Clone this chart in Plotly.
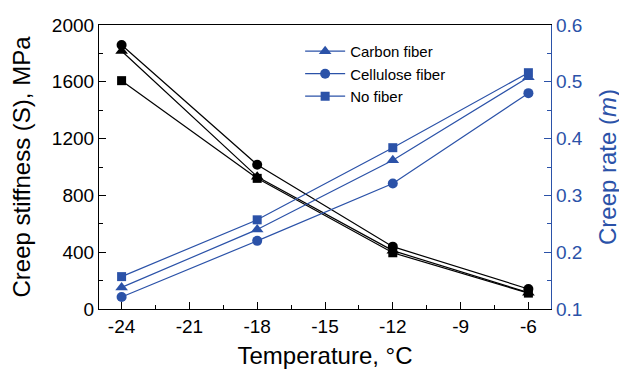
import plotly.graph_objects as go

temps = [-24, -18, -12, -6]
series = ["Carbon fiber", "Cellulose fiber", "No fiber"]
symbols = ["triangle-up", "circle", "square"]
stiffness = {
    "Carbon fiber": [1817, 932, 411, 115],
    "Cellulose fiber": [1859, 1016, 439, 141],
    "No fiber": [1608, 920, 396, 112],
}
creep_rate = {
    "Carbon fiber": [0.138, 0.240, 0.362, 0.508],
    "Cellulose fiber": [0.121, 0.220, 0.321, 0.480],
    "No fiber": [0.157, 0.257, 0.384, 0.516],
}
x_ticks = [-24, -21, -18, -15, -12, -9, -6]
x_ticklabels = ["-24", "-21", "-18", "-15", "-12", "-9", "-6"]
y_ticks = [0, 400, 800, 1200, 1600, 2000]
y2_ticks = [0.1, 0.2, 0.3, 0.4, 0.5, 0.6]

BLUE = "#2B52A8"
FONT = "Liberation Sans, Arial, sans-serif"
sizes = {"triangle-up": 11, "circle": 10, "square": 9}

fig = go.Figure()
for name, sym in zip(series, symbols):
    fig.add_trace(go.Scatter(
        x=temps, y=creep_rate[name], name=name, yaxis="y2",
        mode="lines+markers",
        line=dict(color=BLUE, width=1.2),
        marker=dict(symbol=sym, size=sizes[sym], color=BLUE),
    ))
for name, sym in zip(series, symbols):
    fig.add_trace(go.Scatter(
        x=temps, y=stiffness[name], name=name, showlegend=False,
        mode="lines+markers",
        line=dict(color="black", width=1.2),
        marker=dict(symbol=sym, size=sizes[sym], color="black"),
    ))

fig.update_layout(
    width=619, height=361,
    margin=dict(l=91, r=76, t=17, b=60),
    paper_bgcolor="white", plot_bgcolor="white",
    font=dict(family=FONT, color="black"),
    showlegend=True,
    legend=dict(x=0.445, y=0.965, xanchor="left", yanchor="top",
                bgcolor="rgba(0,0,0,0)", font=dict(size=15, color="black"),
                tracegroupgap=0, itemwidth=40),
    xaxis=dict(
        range=[-25, -5], tickvals=x_ticks, ticktext=x_ticklabels,
        showgrid=False, zeroline=False, automargin=False,
        showline=True, linecolor="black", linewidth=1.2, mirror=True,
        ticks="inside", ticklen=7, tickcolor="black",
        minor=dict(dtick=1.5, tick0=-24, ticks="inside", ticklen=4, tickcolor="black"),
        tickfont=dict(size=19),
        title=dict(text="Temperature, °C", font=dict(size=24), standoff=22),
    ),
    yaxis=dict(
        range=[0, 2000], tickvals=y_ticks, showgrid=False, zeroline=False,
        automargin=False,
        showline=True, linecolor="black", linewidth=1.2,
        ticks="inside", ticklen=7, tickcolor="black",
        minor=dict(dtick=200, tick0=0, ticks="inside", ticklen=4, tickcolor="black"),
        tickfont=dict(size=19),
        title=dict(text="Creep stiffness (S), MPa", font=dict(size=24), standoff=15),
    ),
    yaxis2=dict(
        range=[0.1, 0.6], tickvals=y2_ticks, tickformat=".1f",
        overlaying="y", side="right", showgrid=False, zeroline=False,
        automargin=False,
        showline=True, linecolor=BLUE, linewidth=1.2,
        ticks="inside", ticklen=7, tickcolor=BLUE,
        minor=dict(dtick=0.05, tick0=0.1, ticks="inside", ticklen=4, tickcolor=BLUE),
        tickfont=dict(size=19, color=BLUE),
        title=dict(text="Creep rate (<i>m</i>)", font=dict(size=24, color=BLUE), standoff=17),
    ),
)

fig.write_html("out.html")
